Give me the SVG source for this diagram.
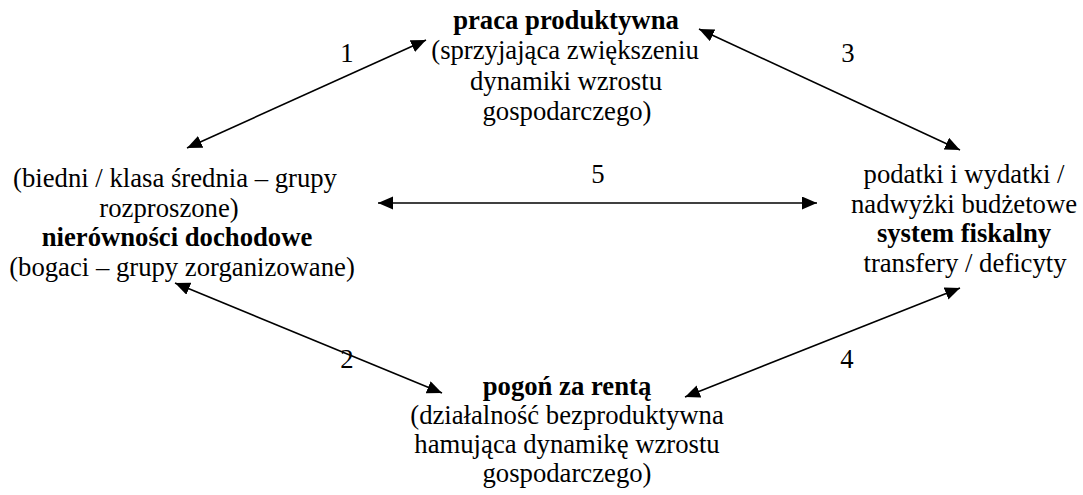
<svg xmlns="http://www.w3.org/2000/svg" width="1083" height="495" viewBox="0 0 1083 495">
<style>
text{font-family:"Liberation Serif","Times New Roman",serif;font-size:26.7px;fill:#000;text-anchor:middle}
.b{font-weight:bold}
.c line{stroke:#000;stroke-width:1.6;marker-start:url(#ah);marker-end:url(#ah)}
</style>
<defs>
<marker id="ah" markerUnits="userSpaceOnUse" markerWidth="16" markerHeight="14" refX="15" refY="6.5" orient="auto-start-reverse">
<path d="M0,0 L15,6.5 L0,13 z" fill="#000"/>
</marker>
</defs>
<rect width="1083" height="495" fill="#fff"/>
<g id="connectors" class="c">
<line x1="187" y1="148" x2="426" y2="40"/>
<line x1="699" y1="29" x2="960" y2="150"/>
<line x1="378" y1="203" x2="817" y2="203"/>
<line x1="175" y1="283" x2="442" y2="393"/>
<line x1="960" y1="288" x2="685" y2="397"/>
<text x="347" y="62">1</text>
<text x="848" y="62">3</text>
<text x="598" y="183">5</text>
<text x="347" y="368">2</text>
<text x="847" y="368">4</text>
</g>
<g id="praca">
<text class="b" x="566" y="29">praca produktywna</text>
<text x="565" y="59">(sprzyjająca zwiększeniu</text>
<text x="566" y="90">dynamiki wzrostu</text>
<text x="567" y="120">gospodarczego)</text>
</g>
<g id="nierownosci">
<text x="175" y="187">(biedni / klasa średnia – grupy</text>
<text x="169" y="217">rozproszone)</text>
<text class="b" x="177" y="246">nierówności dochodowe</text>
<text x="182" y="276">(bogaci – grupy zorganizowane)</text>
</g>
<g id="system">
<text x="964" y="183">podatki i wydatki /</text>
<text x="964" y="213">nadwyżki budżetowe</text>
<text class="b" x="964" y="242">system fiskalny</text>
<text x="965" y="272">transfery / deficyty</text>
</g>
<g id="pogon">
<text class="b" x="567" y="395">pogoń za rentą</text>
<text x="567" y="424">(działalność bezproduktywna</text>
<text x="567" y="453">hamująca dynamikę wzrostu</text>
<text x="567" y="482">gospodarczego)</text>
</g>
</svg>
